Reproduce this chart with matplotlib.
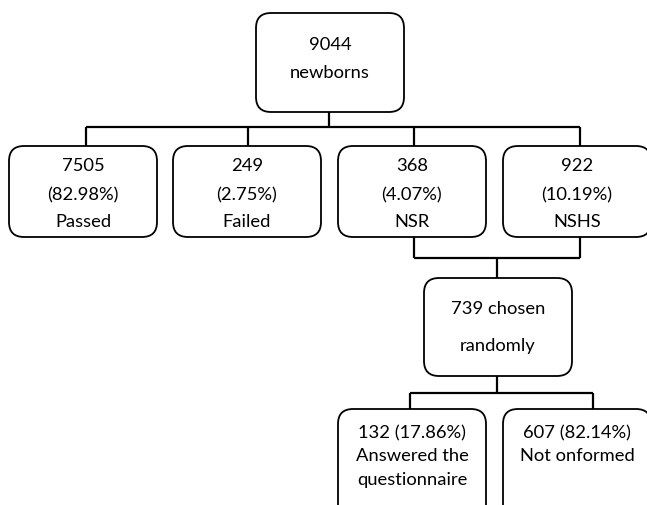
import matplotlib
matplotlib.use("Agg")
import matplotlib.pyplot as plt
from matplotlib.patches import FancyBboxPatch

# ---- data ----
total = 9044
total_label = "newborns"
level2_counts = [7505, 249, 368, 922]
level2_pcts = ["82.98%", "2.75%", "4.07%", "10.19%"]
level2_names = ["Passed", "Failed", "NSR", "NSHS"]
chosen = 739
chosen_label = ["chosen", "randomly"]
level4_counts = [132, 607]
level4_pcts = ["17.86%", "82.14%"]
level4_names = ["Answered the\nquestionnaire", "Not onformed"]

W, H = 647, 505
fig = plt.figure(figsize=(W / 100, H / 100), dpi=100)
ax = fig.add_axes([0, 0, 1, 1])
ax.set_xlim(0, W)
ax.set_ylim(H, 0)
ax.axis("off")

FONT = dict(family=["Lato", "DejaVu Sans"], fontsize=13.2, color="black",
            ha="center", va="center")
LW = 1.3


def box(x0, y0, x1, y1):
    p = FancyBboxPatch((x0, y0), x1 - x0, y1 - y0,
                       boxstyle="round,pad=0,rounding_size=15",
                       fc="white", ec="black", lw=LW, zorder=2)
    ax.add_patch(p)


def line(xs, ys):
    ax.plot(xs, ys, color="black", lw=1.6, zorder=1, solid_capstyle="butt")


# top box
box(256, 13, 404, 112)
ax.text(330, 45, str(total), **FONT)
ax.text(330, 73, total_label, **FONT)

# connectors level1 -> level2
drops = [86, 248, 414, 580]
line([329, 329], [112, 127])
line([drops[0], drops[-1]], [127, 127])
for d in drops:
    line([d, d], [127, 146])

# level 2 boxes
lefts = [9, 173, 338, 503]
bw = 148
for l, c, p, n in zip(lefts, level2_counts, level2_pcts, level2_names):
    box(l, 146, l + bw, 237)
    cx = l + bw / 2
    ax.text(cx, 166, str(c), **FONT)
    ax.text(cx, 195, f"({p})", **FONT)
    ax.text(cx, 222, n, **FONT)

# connectors NSR/NSHS -> chosen
line([414, 414], [237, 258])
line([580, 580], [237, 258])
line([414, 580], [258, 258])
line([497, 497], [258, 278])

# chosen box
box(424, 278, 572, 376)
ax.text(498, 309, f"{chosen} {chosen_label[0]}", **FONT)
ax.text(498, 346, chosen_label[1], **FONT)

# connectors chosen -> level 4
line([497, 497], [376, 393])
line([410, 593], [393, 393])
line([410, 410], [393, 409])
line([593, 593], [393, 409])

# level 4 boxes
l4_lefts = [338, 503]
for l, c, p, n in zip(l4_lefts, level4_counts, level4_pcts, level4_names):
    box(l, 409, l + bw, 520)
    cx = l + bw / 2
    ax.text(cx, 433, f"{c} ({p})", **FONT)
    for i, t in enumerate(n.split("\n")):
        ax.text(cx, 456 + 24 * i, t, **FONT)

fig.savefig("out.png", dpi=100, facecolor="white")
